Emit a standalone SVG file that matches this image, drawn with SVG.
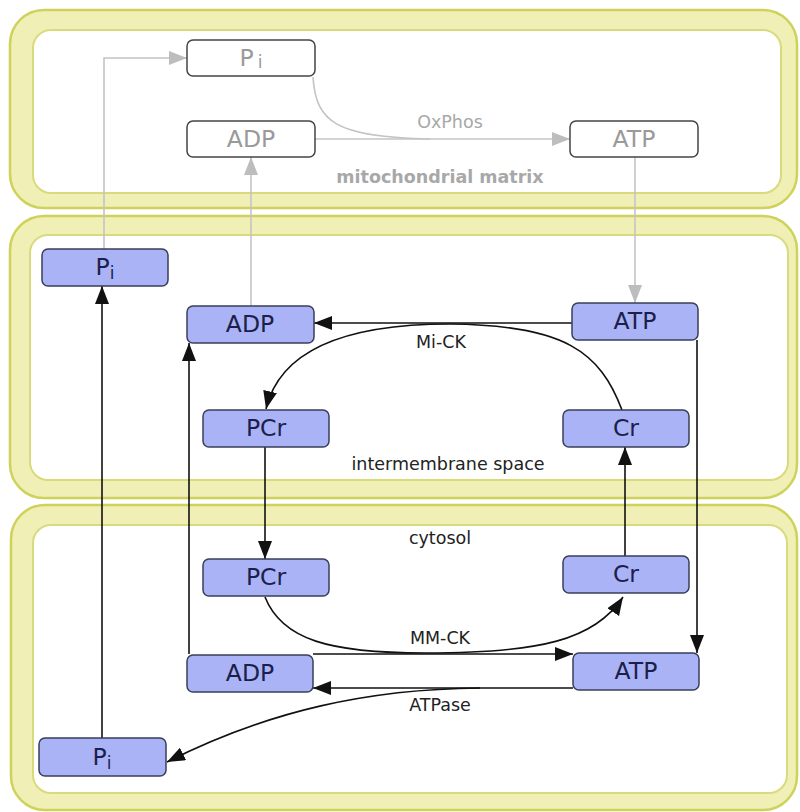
<svg xmlns="http://www.w3.org/2000/svg" width="800" height="812" viewBox="0 0 800 812">
<defs>
<marker id="ab" markerUnits="userSpaceOnUse" markerWidth="20" markerHeight="16" refX="18" refY="7" orient="auto"><path d="M0,0 L18,7 L0,14 z" fill="#111"/></marker>
<marker id="ag" markerUnits="userSpaceOnUse" markerWidth="20" markerHeight="16" refX="18" refY="7" orient="auto"><path d="M0,0 L18,7 L0,14 z" fill="#bdbdbd"/></marker>
<style>
.band{fill:#f0f0b6;stroke:#cfd25a;stroke-width:2.5}
.inner{fill:#ffffff;stroke:#d9da7c;stroke-width:2}
.nb{fill:#aab3f5;stroke:#3a3f5a;stroke-width:1.5}
.nw{fill:#ffffff;stroke:#444;stroke-width:1.5}
.tb{font-family:"DejaVu Sans",sans-serif;font-size:23.5px;fill:#1c1f4c;text-anchor:middle}
.tw{font-family:"DejaVu Sans",sans-serif;font-size:23.5px;fill:#9a9a9a;text-anchor:middle}
.lab{font-family:"DejaVu Sans",sans-serif;font-size:17.5px;fill:#222;text-anchor:middle}
.labg{font-family:"DejaVu Sans",sans-serif;font-size:17.5px;fill:#a8a8a8;text-anchor:middle}
.cb{fill:none;stroke:#111;stroke-width:1.6}
.cg{fill:none;stroke:#c4c4c4;stroke-width:1.6}
</style>
</defs>
<g id="compartments">
<rect class="band" x="10" y="10" width="787" height="198" rx="34"/>
<rect class="inner" x="33" y="30" width="748" height="163" rx="18"/>
<rect class="band" x="10" y="216" width="787" height="282" rx="34"/>
<rect class="inner" x="30" y="235" width="758" height="245" rx="18"/>
<rect class="band" x="11" y="505" width="786" height="305" rx="34"/>
<rect class="inner" x="33" y="525" width="754" height="268" rx="18"/>
</g>
<g id="connectors">
<path class="cg" d="M104,249 L104,58 L187,58" marker-end="url(#ag)"/>
<path class="cg" d="M251,306 L251,157" marker-end="url(#ag)"/>
<path class="cg" d="M315,139 L570,139" marker-end="url(#ag)"/>
<path class="cg" d="M313,77 C316,122 335,137 430,139"/>
<path class="cg" d="M635,157 L635,303" marker-end="url(#ag)"/>
<path class="cb" d="M102,738 L102,286" marker-end="url(#ab)"/>
<path class="cb" d="M189,654 L189,343" marker-end="url(#ab)"/>
<path class="cb" d="M572,323 L314,323" marker-end="url(#ab)"/>
<path class="cb" d="M622,410 C600,352 565,325 450,324 C330,324 278,358 266,409" marker-end="url(#ab)"/>
<path class="cb" d="M265,447 L265,559" marker-end="url(#ab)"/>
<path class="cb" d="M625,556 L625,447" marker-end="url(#ab)"/>
<path class="cb" d="M697,340 L697,653" marker-end="url(#ab)"/>
<path class="cb" d="M313,654 L573,654" marker-end="url(#ab)"/>
<path class="cb" d="M265,597 C282,640 330,653 425,653 C540,653 595,640 623,597" marker-end="url(#ab)"/>
<path class="cb" d="M573,688 L313,688" marker-end="url(#ab)"/>
<path class="cb" d="M480,688 C370,689 270,710 167,762" marker-end="url(#ab)"/>
</g>
<g id="labels">
<text class="labg" x="450" y="128">OxPhos</text>
<text class="labg" x="440" y="183" font-weight="bold">mitochondrial matrix</text>
<text class="lab" x="441" y="348">Mi-CK</text>
<text class="lab" x="448" y="470">intermembrane space</text>
<text class="lab" x="440" y="544">cytosol</text>
<text class="lab" x="440" y="644">MM-CK</text>
<text class="lab" x="440" y="711">ATPase</text>
</g>
<g id="m-pi"><rect class="nw" x="187" y="40" width="128" height="36" rx="6"/><text class="tw" x="251" y="66">P<tspan font-size="17" dx="4" dy="2">i</tspan></text></g>
<g id="m-adp"><rect class="nw" x="187" y="121" width="128" height="36" rx="6"/><text class="tw" x="251" y="147">ADP</text></g>
<g id="m-atp"><rect class="nw" x="570" y="121" width="128" height="36" rx="6"/><text class="tw" x="634" y="147">ATP</text></g>
<g id="i-pi"><rect class="nb" x="42" y="249" width="126" height="37" rx="6"/><text class="tb" x="105" y="275">P<tspan font-size="17" dy="4">i</tspan></text></g>
<g id="i-adp"><rect class="nb" x="187" y="306" width="127" height="37" rx="6"/><text class="tb" x="250" y="332">ADP</text></g>
<g id="i-atp"><rect class="nb" x="572" y="303" width="126" height="37" rx="6"/><text class="tb" x="635" y="329">ATP</text></g>
<g id="i-pcr"><rect class="nb" x="203" y="410" width="126" height="37" rx="6"/><text class="tb" x="266" y="436">PCr</text></g>
<g id="i-cr"><rect class="nb" x="563" y="410" width="126" height="37" rx="6"/><text class="tb" x="626" y="436">Cr</text></g>
<g id="c-pcr"><rect class="nb" x="203" y="559" width="126" height="37" rx="6"/><text class="tb" x="266" y="585">PCr</text></g>
<g id="c-cr"><rect class="nb" x="563" y="556" width="126" height="37" rx="6"/><text class="tb" x="626" y="582">Cr</text></g>
<g id="c-adp"><rect class="nb" x="187" y="655" width="126" height="37" rx="6"/><text class="tb" x="250" y="681">ADP</text></g>
<g id="c-atp"><rect class="nb" x="573" y="653" width="126" height="37" rx="6"/><text class="tb" x="636" y="679">ATP</text></g>
<g id="c-pi"><rect class="nb" x="39" y="738" width="127" height="38" rx="6"/><text class="tb" x="102" y="765">P<tspan font-size="17" dy="4">i</tspan></text></g>
</svg>
